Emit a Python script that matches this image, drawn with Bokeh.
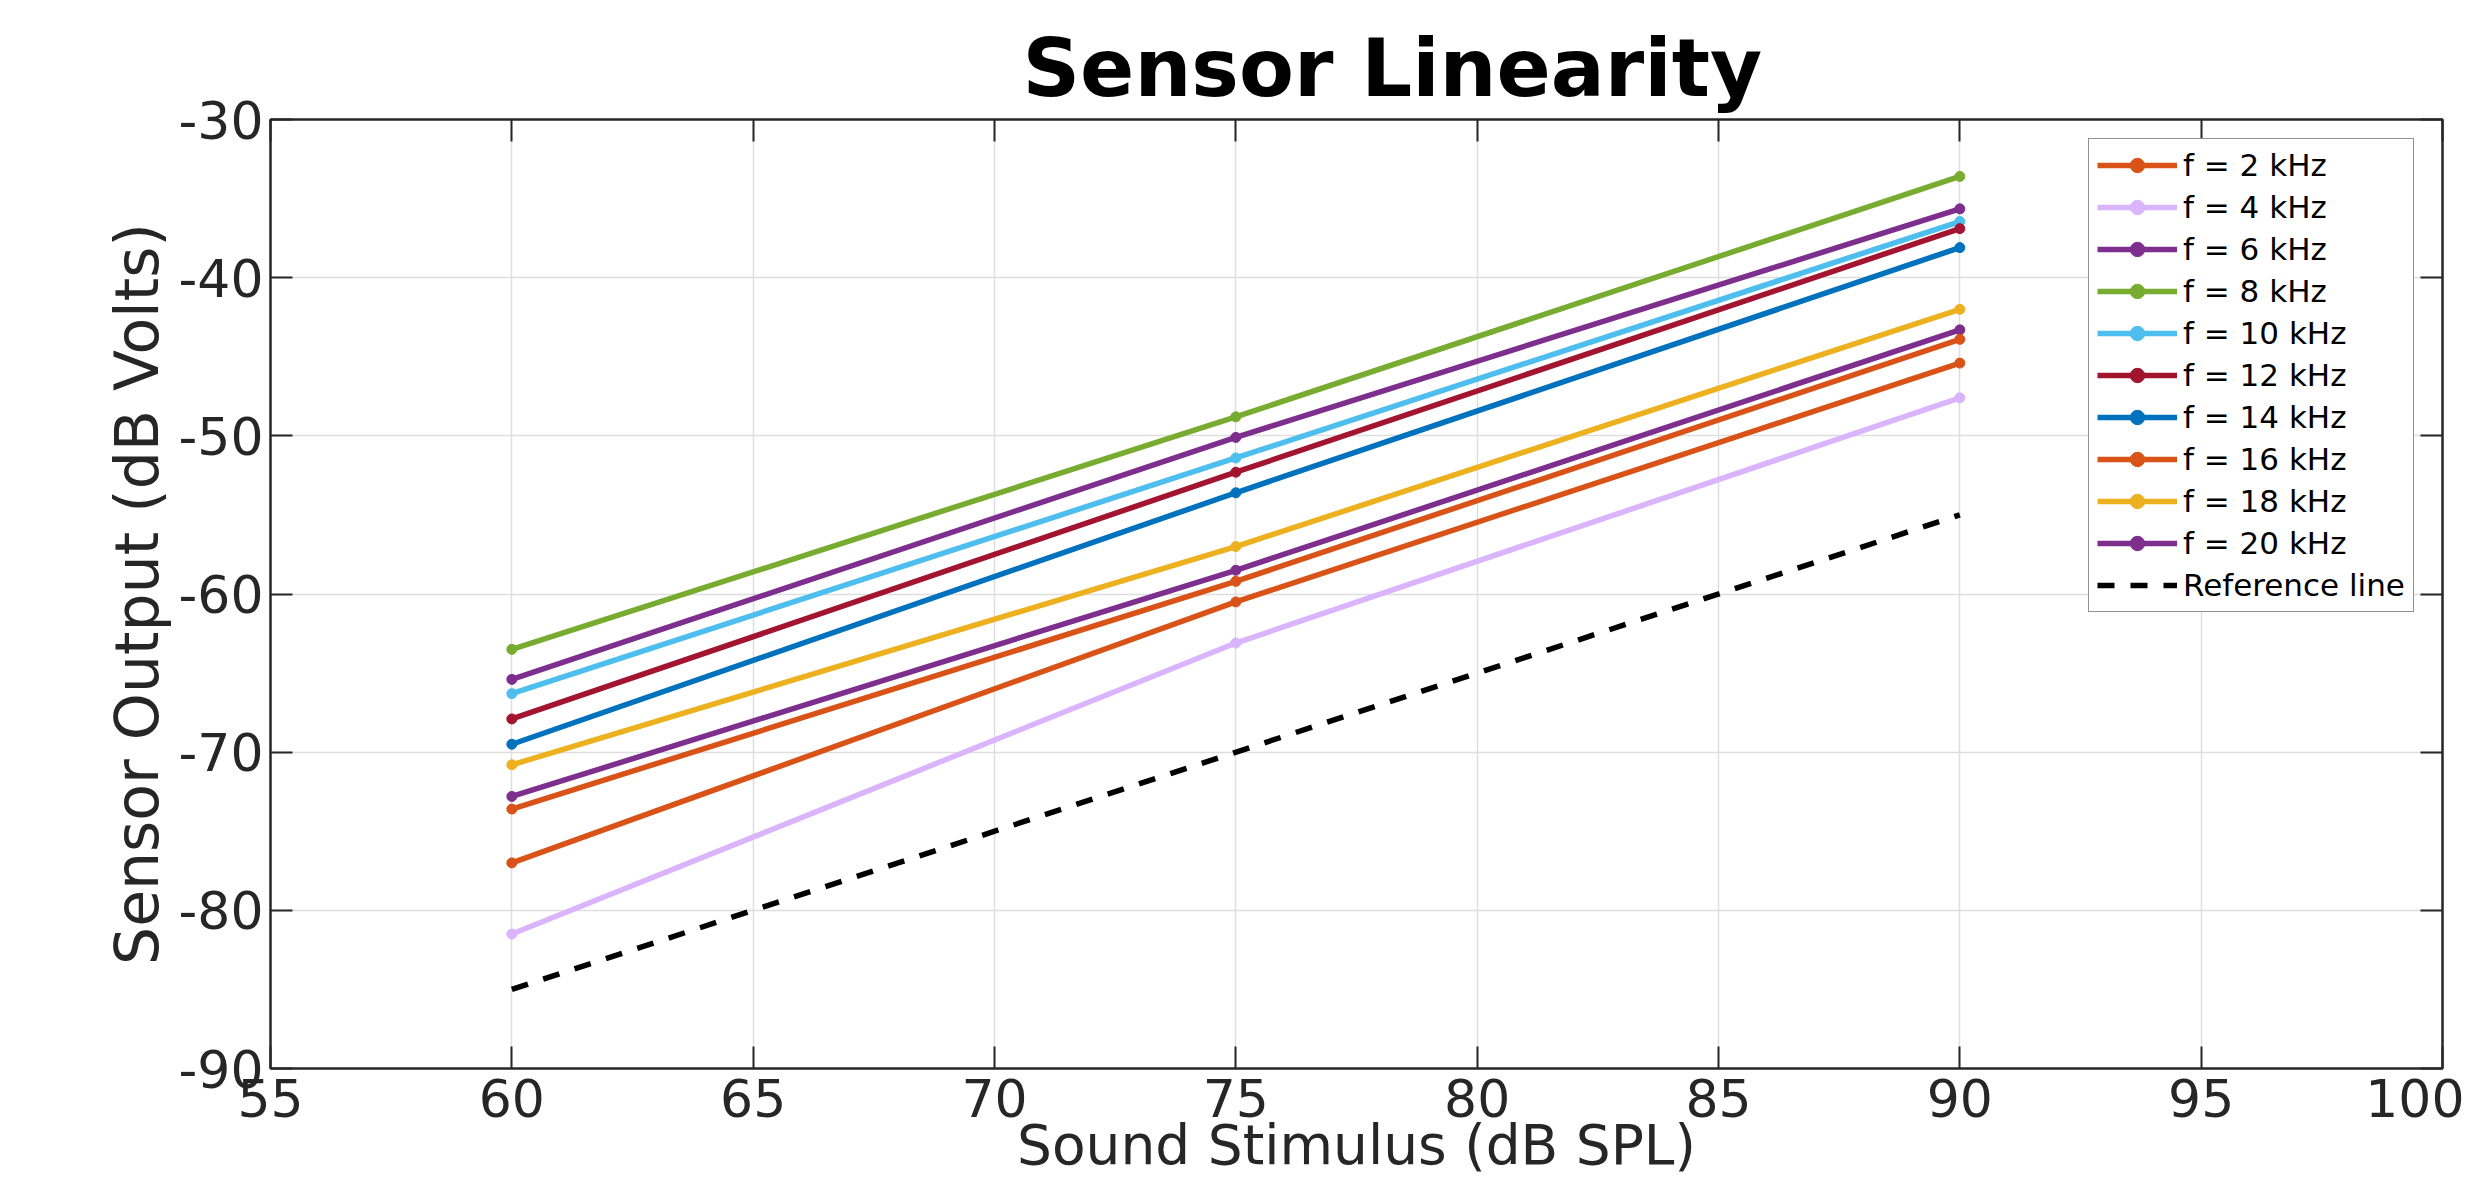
from bokeh.plotting import figure
from bokeh.models import LinearAxis, FixedTicker, Range1d, CustomLabelingPolicy
from bokeh.embed import file_html
from bokeh.resources import INLINE

# ---- data ----
stimulus = [60, 75, 90]
series_labels = ["f = 2 kHz", "f = 4 kHz", "f = 6 kHz", "f = 8 kHz", "f = 10 kHz",
                 "f = 12 kHz", "f = 14 kHz", "f = 16 kHz", "f = 18 kHz", "f = 20 kHz"]
out_2k = [-77.0, -60.5, -45.4]
out_4k = [-81.5, -63.1, -47.6]
out_6k = [-72.8, -58.5, -43.3]
out_8k = [-63.5, -48.8, -33.6]
out_10k = [-66.3, -51.4, -36.45]
out_12k = [-67.9, -52.3, -36.9]
out_14k = [-69.5, -53.6, -38.1]
out_16k = [-73.6, -59.2, -43.9]
out_18k = [-70.8, -57.0, -42.0]
out_20k = [-65.4, -50.1, -35.65]
ref_x = [60, 90]
ref_y = [-85, -55]
ref_label = "Reference line"
x_ticks = [55, 60, 65, 70, 75, 80, 85, 90, 95, 100]
y_ticks = [-90, -80, -70, -60, -50, -40, -30]
title_text = "Sensor Linearity"
x_title = "Sound Stimulus (dB SPL)"
y_title = "Sensor Output (dB Volts)"

series_values = [out_2k, out_4k, out_6k, out_8k, out_10k, out_12k, out_14k, out_16k, out_18k, out_20k]
colors = ["#D95319", "#DAB4FC", "#7E2F8E", "#77AC30", "#4DBEEE",
          "#A2142F", "#0072BD", "#D95319", "#EDB120", "#7E2F8E"]

FONT = "DejaVu Sans"
AX = "#262626"

p = figure(width=2464, height=1179, x_range=Range1d(55, 100), y_range=Range1d(-90, -30),
           output_backend="svg", toolbar_location=None,
           min_border_left=270, min_border_right=0, min_border_top=119, min_border_bottom=111)

p.background_fill_color = "white"
p.border_fill_color = "white"
p.outline_line_color = AX
p.outline_line_width = 2

# title
p.title.text = title_text
p.title.text_font = FONT
p.title.text_font_size = "80px"
p.title.text_font_style = "bold"
p.title.text_color = "black"
p.title.align = "left"
p.title.offset = 752
p.title.standoff = -12

xt = FixedTicker(ticks=x_ticks, minor_ticks=[])
yt = FixedTicker(ticks=y_ticks, minor_ticks=[])

for ax in (p.xaxis[0], p.yaxis[0]):
    ax.major_label_text_font = FONT
    ax.major_label_text_font_size = "52px"
    ax.major_label_text_color = AX
    ax.axis_label_text_font = FONT
    ax.axis_label_text_font_style = "normal"
    ax.axis_label_text_color = AX
    ax.axis_line_color = AX
    ax.axis_line_width = 2
    ax.major_tick_in = 22
    ax.major_tick_out = 0
    ax.major_tick_line_color = AX
    ax.major_tick_line_width = 2
    ax.minor_tick_line_color = None

p.xaxis[0].ticker = xt
p.yaxis[0].ticker = yt
p.xaxis[0].axis_label = x_title
p.xaxis[0].axis_label_text_font_size = "55px"
p.xaxis[0].major_label_standoff = 10
p.xaxis[0].axis_label_standoff = -7
p.yaxis[0].axis_label = y_title
p.yaxis[0].axis_label_text_font_size = "60px"
p.yaxis[0].major_label_standoff = 7
p.yaxis[0].axis_label_standoff = 4
p.yaxis[0].major_label_overrides = {v: str(v) for v in y_ticks}

# box ticks on top and right (no labels)
no_labels = CustomLabelingPolicy(code="""
try { return new indices.constructor(indices.size, 0) }
catch (e) { for (const i of Array.from(indices)) indices.unset(i); return indices }
""")
top = LinearAxis(ticker=xt, major_label_policy=no_labels, major_label_standoff=0,
                 major_tick_in=22, major_tick_out=0, major_tick_line_color=AX,
                 major_tick_line_width=2, minor_tick_line_color=None,
                 axis_line_color=AX, axis_line_width=2)
right = LinearAxis(ticker=yt, major_label_policy=no_labels, major_label_standoff=0,
                   major_tick_in=22, major_tick_out=0, major_tick_line_color=AX,
                   major_tick_line_width=2, minor_tick_line_color=None,
                   axis_line_color=AX, axis_line_width=2)
p.add_layout(top, "above")
p.add_layout(right, "right")

p.xgrid.ticker = xt
p.ygrid.ticker = yt
for g in (p.xgrid[0], p.ygrid[0]):
    g.grid_line_color = "#dedede"
    g.grid_line_width = 1.5

for lab, vals, col in zip(series_labels, series_values, colors):
    p.line(stimulus, vals, line_color=col, line_width=5.5, legend_label=lab)
    p.scatter(stimulus, vals, size=10, fill_color=col, line_color=col, legend_label=lab)

p.line(ref_x, ref_y, line_color="black", line_width=5.5, line_dash="17 16", legend_label=ref_label)

lg = p.legend[0]
lg.location = (1818, 456)
lg.label_text_font = FONT
lg.label_text_font_size = "31px"
lg.label_text_color = "black"
lg.label_height = 36
lg.glyph_height = 36
lg.glyph_width = 80
lg.label_standoff = 6
lg.spacing = 6
lg.padding = 8
lg.margin = 0
lg.border_line_color = AX
lg.border_line_width = 1.5
lg.background_fill_color = "white"
lg.background_fill_alpha = 1.0

open("out.html", "w").write(file_html(p, INLINE))
